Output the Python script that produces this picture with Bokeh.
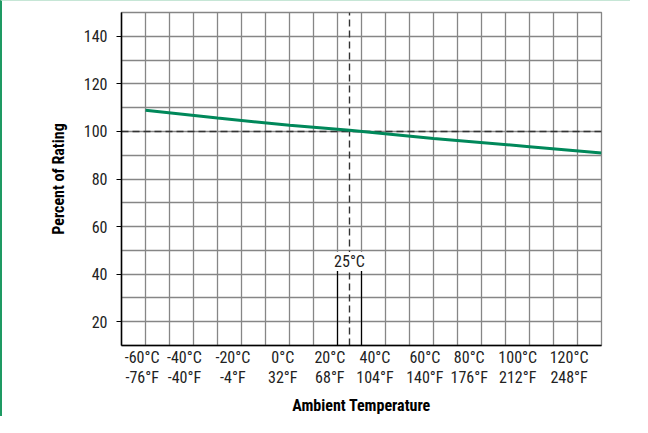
from bokeh.plotting import figure
from bokeh.models import FixedTicker, LinearAxis, Range1d, Label
from bokeh.embed import file_html
from bokeh.resources import INLINE

# ---- data ----
temps_c = [-60, -30, 0, 25, 60, 100, 130]
rating_pct = [108.9, 105.6, 102.6, 100.5, 97.0, 93.6, 90.9]

x_labels_c = ["-60°C", "-40°C", "-20°C", "0°C", "20°C", "40°C", "60°C", "80°C", "100°C", "120°C"]
x_labels_f = ["-76°F", "-40°F", "-4°F", "32°F", "68°F", "104°F", "140°F", "176°F", "212°F", "248°F"]
x_label_pos = [-61.4, -43.8, -23.6, -2.8, 16.8, 35.6, 56.4, 74.9, 95.1, 116.5]
y_ticks = [20, 40, 60, 80, 100, 120, 140]
x_grid = list(range(-70, 131, 10))
y_grid = list(range(10, 151, 10))

ref_temp = 25
rated_pct = 100
marker_band = [20, 30]
marker_top = 41.6
ref_label = "25°C"

FONT = "Roboto Condensed, DejaVu Sans Condensed, Liberation Sans Narrow, Roboto"
GRID = "#868686"
INK = "#222222"

p = figure(width=630, height=416, output_backend="svg", toolbar_location=None,
           x_range=Range1d(-70, 130), y_range=Range1d(10, 150),
           min_border_left=119, min_border_right=31, min_border_top=11, min_border_bottom=70)
p.styles = {"border-left": "2px solid #1e9a63", "border-top": "1px solid #c6e6d6"}
p.background_fill_color = "white"
p.border_fill_color = "white"
p.outline_line_color = GRID
p.outline_line_width = 1.3

# grids
p.xgrid.ticker = FixedTicker(ticks=x_grid)
p.ygrid.ticker = FixedTicker(ticks=y_grid)
for g in (p.xgrid, p.ygrid):
    g.grid_line_color = GRID
    g.grid_line_width = 1.3

# y axis
ya = p.yaxis[0]
ya.ticker = FixedTicker(ticks=y_ticks)
ya.axis_line_color = "black"
ya.axis_line_width = 1.5
ya.major_tick_line_color = "black"
ya.major_tick_in = 0
ya.major_tick_out = 5
ya.minor_tick_line_color = None
ya.major_label_standoff = 9
ya.major_label_text_font = FONT
ya.major_label_text_font_size = "16px"
ya.major_label_text_color = INK
ya.axis_label = "Percent of Rating"
ya.axis_label_text_font = FONT
ya.axis_label_text_font_style = "bold"
ya.axis_label_text_font_size = "16px"
ya.axis_label_text_color = "black"
ya.axis_label_standoff = 13

# x axis (°C)
xa = p.xaxis[0]
xa.ticker = FixedTicker(ticks=x_label_pos)
xa.major_label_overrides = {pos: lab for pos, lab in zip(x_label_pos, x_labels_c)}
xa.axis_line_color = "black"
xa.axis_line_width = 1.5
xa.major_tick_line_color = None
xa.minor_tick_line_color = None
xa.major_label_standoff = -4
xa.major_label_text_font = FONT
xa.major_label_text_font_size = "16px"
xa.major_label_text_color = INK

# x axis (°F)
xa2 = LinearAxis(ticker=FixedTicker(ticks=x_label_pos),
                 major_label_overrides={pos: lab for pos, lab in zip(x_label_pos, x_labels_f)})
xa2.axis_line_color = None
xa2.major_tick_line_color = None
xa2.minor_tick_line_color = None
xa2.major_label_standoff = -8
xa2.major_label_text_font = FONT
xa2.major_label_text_font_size = "16px"
xa2.major_label_text_color = INK
xa2.axis_label = "Ambient Temperature"
xa2.axis_label_text_font = FONT
xa2.axis_label_text_font_style = "bold"
xa2.axis_label_text_font_size = "16px"
xa2.axis_label_text_color = "black"
xa2.axis_label_standoff = 6
p.add_layout(xa2, "below")

# white patch behind the 25°C label
p.quad(left=[marker_band[0] + 0.4], right=[marker_band[1] - 0.4],
       bottom=[marker_top + 0.2], top=[49.5], fill_color="white", line_color=None)

# solid marker lines at 20 and 30 °C
p.segment(x0=marker_band, y0=[10, 10], x1=marker_band, y1=[marker_top, marker_top],
          line_color="black", line_width=1.2)

# dashed reference lines
p.segment(x0=[ref_temp], y0=[10], x1=[ref_temp], y1=[150],
          line_color="#333333", line_width=1.4, line_dash="7 4")
p.segment(x0=[-70], y0=[rated_pct], x1=[130], y1=[rated_pct],
          line_color="#333333", line_width=1.4, line_dash="7 4")

# derating curve
p.line(temps_c, rating_pct, line_color="#00885a", line_width=3)

p.add_layout(Label(x=ref_temp, y=45.3, text=ref_label, text_align="center",
                   text_baseline="middle", text_font=FONT, text_font_size="16px",
                   text_color=INK, background_fill_color="white"))

open("out.html", "w").write(file_html(p, INLINE))
